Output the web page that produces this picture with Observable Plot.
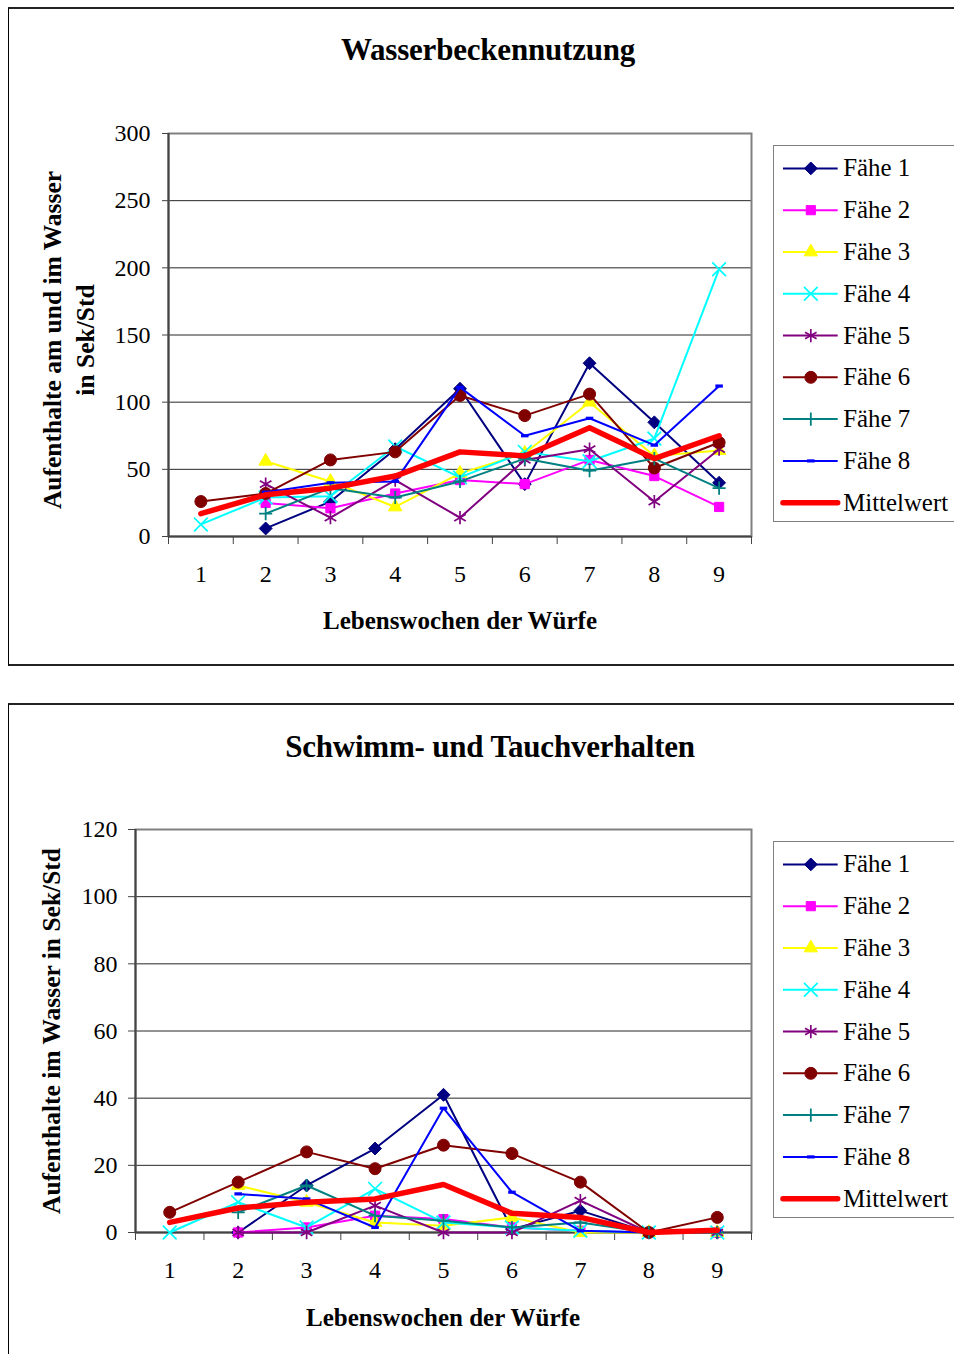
<!DOCTYPE html>
<html>
<head>
<meta charset="utf-8">
<script src="https://cdn.jsdelivr.net/npm/d3@7"></script>
<script src="https://cdn.jsdelivr.net/npm/@observablehq/plot@0.6"></script>
<style>
  html, body { margin: 0; padding: 0; background: #fff; }
  body { width: 954px; height: 1354px; position: relative; overflow: hidden; font-family: "Liberation Serif", "Times New Roman", serif; color: #000; }
  .abs { position: absolute; }
  .abs svg, .legend svg { font-family: "Liberation Serif", serif !important; }
  .abs svg text, .legend svg text { font-family: "Liberation Serif", serif !important; font-variant: normal !important; }
  .panel { position: absolute; border-left: 1px solid #000; border-top: 2px solid #222; border-bottom: 2px solid #222; box-sizing: border-box; }
  .title { position: absolute; font-weight: bold; font-size: 31px; white-space: nowrap; transform: translate(-50%, -50%); letter-spacing: -0.2px; }
  .xtitle { position: absolute; font-weight: bold; font-size: 25px; white-space: nowrap; transform: translate(-50%, -50%); }
  .ytitle { position: absolute; font-weight: bold; font-size: 25.5px; white-space: nowrap; transform: translate(-50%, -50%) rotate(-90deg); line-height: 33px; text-align: center; }
  .legend { position: absolute; border: 1.5px solid #808080; border-right: none; box-sizing: border-box; background: #fff; }
</style>
</head>
<body>
<script>
// ---------- data ----------
const weeks = [1, 2, 3, 4, 5, 6, 7, 8, 9];
const seriesNames = ["Fähe 1", "Fähe 2", "Fähe 3", "Fähe 4", "Fähe 5", "Fähe 6", "Fähe 7", "Fähe 8", "Mittelwert"];

// Wasserbeckennutzung (Sek/Std)
const nutzungF1 = [null, 6, 26, 65, 110, 39, 129, 85, 40];
const nutzungF2 = [null, 25, 21, 32, 42, 39, 57, 45, 22];
const nutzungF3 = [null, 56, 41, 22, 47, 62, 100, 60, 64];
const nutzungF4 = [9, 29, 30, 67, 44, 63, 56, 73, 199];
const nutzungF5 = [null, 39, 14, 42, 14, 57, 65, 26, 65];
const nutzungF6 = [26, 32, 57, 63, 105, 90, 106, 51, 70];
const nutzungF7 = [null, 17, 36, 29, 41, 58, 49, 58, 36];
const nutzungF8 = [null, 33, 40, 41, 111, 75, 88, 68, 112];
const nutzungMittel = [17, 31, 36, 45, 63, 60, 81, 58, 75];
const nutzungTicks = [0, 50, 100, 150, 200, 250, 300];

// Schwimm- und Tauchverhalten (Sek/Std)
const schwimmF1 = [null, 0, 14, 25, 41, 1, 6.5, 0, 0];
const schwimmF2 = [null, 0, 1.5, 5, 4, 1.5, 0.5, 0, 0];
const schwimmF3 = [null, 14, 9, 3, 2, 4.5, 0, 0, 0];
const schwimmF4 = [0, 9, 1.5, 13, 3, 1.5, 0.5, 0, 0];
const schwimmF5 = [null, 0, 0, 8, 0, 0, 9.5, 0, 0];
const schwimmF6 = [6, 15, 24, 19, 26, 23.5, 15, 0, 4.5];
const schwimmF7 = [null, 6, 14, 5, 3.5, 1.5, 3, 0, 0];
const schwimmF8 = [null, 11.5, 10, 1.5, 37, 12, 0.5, 0, 0.5];
const schwimmMittel = [3, 7.3, 9, 10, 14.3, 5.7, 4.5, 0, 0.7];
const schwimmTicks = [0, 20, 40, 60, 80, 100, 120];

// ---------- styles ----------
const FONT = "Liberation Serif";
const colors = ["#000080", "#FF00FF", "#FFFF00", "#00FFFF", "#800080", "#800000", "#008080", "#0000FF", "#FF0000"];
const dashSymbol = { draw(ctx, size) { const w = Math.sqrt(size) * 0.85, h = 3.2; ctx.rect(-w / 2, -h / 2, w, h); } };
const markerStyles = [
  { symbol: "diamond2", r: 5.8, sw: 1 },
  { symbol: "square", r: 5.2, sw: 1 },
  { symbol: "triangle", r: 5, sw: 1 },
  { symbol: "times", r: 6.3, sw: 1.7 },
  { symbol: "asterisk", r: 6.3, sw: 1.7 },
  { symbol: "circle", r: 6, sw: 1 },
  { symbol: "plus", r: 4.3, sw: 1.8 },
  { symbol: dashSymbol, r: 5, sw: 0 },
  null
];

function buildRows(arrays) {
  const rows = [];
  arrays.forEach((arr, i) => arr.forEach((v, j) => {
    if (v != null) rows.push({ week: weeks[j], name: seriesNames[i], value: v });
  }));
  return rows;
}

function seriesMarks(rows) {
  const marks = [];
  seriesNames.forEach((name, i) => {
    const data = rows.filter(d => d.name === name);
    const isMean = name === "Mittelwert";
    marks.push(Plot.line(data, { x: "week", y: "value", stroke: colors[i], strokeWidth: isMean ? 5.5 : 2, strokeLinejoin: "round", strokeLinecap: isMean ? "round" : "butt" }));
    const ms = markerStyles[i];
    if (ms) marks.push(Plot.dot(data, { x: "week", y: "value", symbol: ms.symbol, r: ms.r, fill: colors[i], stroke: colors[i], strokeWidth: ms.sw }));
  });
  return marks;
}

function makeChart(arrays, ticks, g) {
  const rows = buildRows(arrays);
  const bounds = [weeks[0] - 0.5, ...weeks.map(w => w + 0.5)];
  return Plot.plot({
    width: 954,
    height: g.height,
    marginLeft: g.left, marginRight: 954 - g.right,
    marginTop: g.top, marginBottom: g.height - g.bottom,
    style: { background: "transparent", fontFamily: FONT, overflow: "visible", color: "#000" },
    x: { type: "linear", domain: [bounds[0], bounds[bounds.length - 1]] },
    y: { domain: [ticks[0], ticks[ticks.length - 1]] },
    marks: [
      Plot.gridY({ ticks, stroke: "#000", strokeOpacity: 0.85, strokeWidth: 1 }),
      Plot.frame({ stroke: "#808080", strokeWidth: 2 }),
      Plot.ruleX([bounds[0]], { stroke: "#444", strokeWidth: 2 }),
      Plot.ruleY([ticks[0]], { stroke: "#444", strokeWidth: 2 }),
      Plot.axisY({ ticks, tickSize: g.ytick, tickPadding: g.ypad, fontSize: 24, fontFamily: FONT, label: null, stroke: "#444" }),
      Plot.axisX({ ticks: bounds, tickSize: 8, tickFormat: () => "", label: null, stroke: "#444" }),
      Plot.axisX({ ticks: weeks, tickSize: 0, tickPadding: g.xpad, fontSize: 24, fontFamily: FONT, label: null, tickFormat: d => String(d) }),
      ...seriesMarks(rows)
    ]
  });
}

function makeLegend() {
  const marks = [];
  seriesNames.forEach((name, i) => {
    const isMean = name === "Mittelwert";
    marks.push(Plot.ruleY([name], { y: d => d, x1: () => 0, x2: () => 1, stroke: colors[i], strokeWidth: isMean ? 5.5 : 2, strokeLinecap: isMean ? "round" : "butt" }));
    const ms = markerStyles[i];
    if (ms) marks.push(Plot.dot([name], { y: d => d, x: () => 0.5, symbol: ms.symbol, r: ms.r, fill: colors[i], stroke: colors[i], strokeWidth: ms.sw }));
  });
  marks.push(Plot.text(seriesNames, { y: d => d, x: () => 1, text: d => d, textAnchor: "start", dx: 5, fontSize: 25, fontFamily: FONT, fill: "#000" }));
  return Plot.plot({
    width: 200, height: 376, margin: 0,
    style: { background: "transparent", fontFamily: FONT, overflow: "visible" },
    x: { domain: [0, 1], range: [9, 64], axis: null },
    y: { type: "point", domain: seriesNames, range: [19, 361], padding: 0, axis: null },
    marks
  });
}

function addDiv(cls, styleObj, html) {
  const d = document.createElement("div");
  d.className = cls;
  Object.assign(d.style, styleObj);
  if (html != null) d.innerHTML = html;
  document.body.appendChild(d);
  return d;
}

// ---------- panel 1 ----------
addDiv("panel", { left: "8px", top: "7px", width: "1000px", height: "659px" });
const c1 = addDiv("abs", { left: "0px", top: "0px" });
c1.appendChild(makeChart(
  [nutzungF1, nutzungF2, nutzungF3, nutzungF4, nutzungF5, nutzungF6, nutzungF7, nutzungF8, nutzungMittel],
  nutzungTicks,
  { height: 664, left: 168, right: 751, top: 133, bottom: 536, ytick: 6, ypad: 12, xpad: 28 }
));
addDiv("title", { left: "488px", top: "50px" }, "Wasserbeckennutzung");
addDiv("xtitle", { left: "460px", top: "621px" }, "Lebenswochen der Würfe");
addDiv("ytitle", { left: "69px", top: "340px" }, "Aufenthalte am und im Wasser<br>in Sek/Std");
const l1 = addDiv("legend", { left: "773px", top: "145px", width: "200px", height: "377px" });
l1.appendChild(makeLegend());

// ---------- panel 2 ----------
addDiv("panel", { left: "8px", top: "703px", width: "1000px", height: "700px" });
const c2 = addDiv("abs", { left: "0px", top: "703px" });
c2.appendChild(makeChart(
  [schwimmF1, schwimmF2, schwimmF3, schwimmF4, schwimmF5, schwimmF6, schwimmF7, schwimmF8, schwimmMittel],
  schwimmTicks,
  { height: 651, left: 135, right: 751, top: 126, bottom: 529, ytick: 7, ypad: 11, xpad: 28 }
));
addDiv("title", { left: "490px", top: "747px" }, "Schwimm- und Tauchverhalten");
addDiv("xtitle", { left: "443px", top: "1318px" }, "Lebenswochen der Würfe");
addDiv("ytitle", { left: "51px", top: "1031px" }, "Aufenthalte im Wasser in Sek/Std");
const l2 = addDiv("legend", { left: "773px", top: "841px", width: "200px", height: "377px" });
l2.appendChild(makeLegend());
</script>
</body>
</html>
